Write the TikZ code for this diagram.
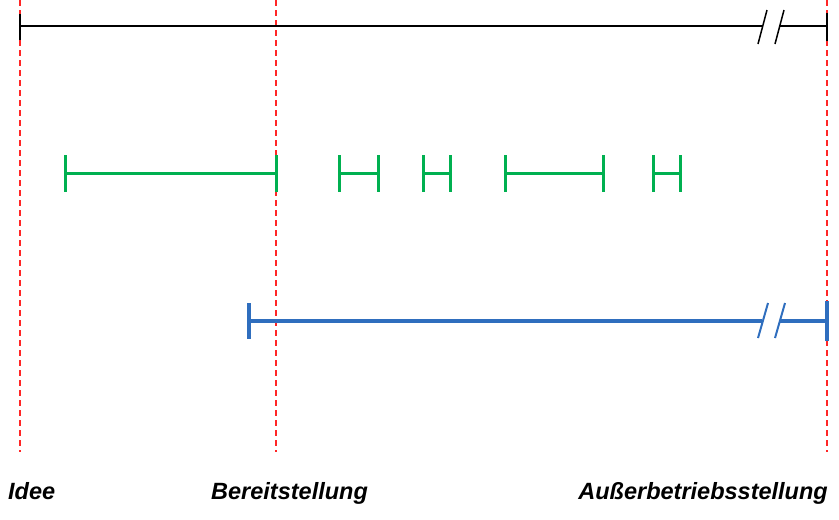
\documentclass[tikz,border=0pt]{standalone}
\usepackage{fontspec}
\setmainfont{Liberation Sans}
\begin{document}
\begin{tikzpicture}[x=1pt,y=-1pt,
  guide/.style={draw=red!85!white, line width=1.3pt, dash pattern=on 6pt off 4pt},
  blackbar/.style={draw=black, line width=1.8pt},
  greenbar/.style={draw=green!60!black!80!cyan, draw={rgb,255:red,0;green,176;blue,80}, line width=3pt},
  bluebar/.style={draw={rgb,255:red,47;green,110;blue,190}, line width=3.5pt},
  lbl/.style={font=\bfseries\itshape\fontsize{23.5}{26}\selectfont, inner sep=0pt}
]
\useasboundingbox (0,0) rectangle (839,520);
% guides
\foreach \n/\x in {g1/20,g2/276,g3/827}{
  \coordinate (\n t) at (\x,0);
  \coordinate (\n b) at (\x,452);
  \draw[guide] (\n t) -- (\n b);
}
% black line
\coordinate (k0) at (20,26); \coordinate (k1) at (762,26);
\coordinate (k2) at (780,26); \coordinate (k3) at (827,26);
\draw[blackbar] (k0) -- (k1);
\draw[blackbar] (k2) -- (k3);
\draw[blackbar] (20,14) -- (20,40);
\draw[blackbar] (827,13) -- (827,41);
\draw[blackbar, line width=1.5pt] (758,44) -- (767,10);
\draw[blackbar, line width=1.5pt] (775,44) -- (784,10);
% green bars
\foreach \a/\b in {65/276,339/378,423/450,505/603,653/680}{
  \coordinate (ga) at (\a,173); \coordinate (gb) at (\b,173);
  \draw[greenbar] (ga) -- (gb);
  \draw[greenbar] (\a,155) -- (\a,192);
  \draw[greenbar] (\b,155) -- (\b,192);
}
% blue line
\coordinate (b0) at (249,321); \coordinate (b1) at (762,321);
\coordinate (b2) at (780,321); \coordinate (b3) at (827,321);
\draw[bluebar] (b0) -- (b1);
\draw[bluebar] (b2) -- (b3);
\draw[bluebar] (249,303) -- (249,339);
\draw[bluebar] (827,301) -- (827,341);
\draw[bluebar, line width=2pt] (758,338) -- (768,303);
\draw[bluebar, line width=2pt] (775,338) -- (785,303);
% labels
\node[lbl, anchor=base west] (idee) at (8,499) {Idee};
\node[lbl, anchor=base west] (bereit) at (211,499) {Bereitstellung};
\node[lbl, anchor=base east] (ausser) at (828,499) {Außerbetriebsstellung};
\end{tikzpicture}
\end{document}
